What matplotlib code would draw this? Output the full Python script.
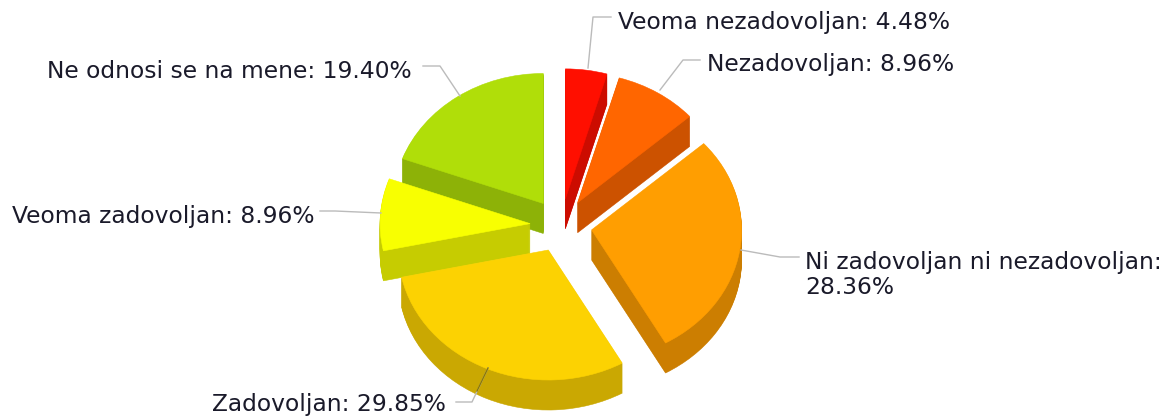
import matplotlib
matplotlib.use("Agg")
import matplotlib.pyplot as plt

categories = ["Veoma nezadovoljan", "Nezadovoljan", "Ni zadovoljan ni nezadovoljan",
              "Zadovoljan", "Veoma zadovoljan", "Ne odnosi se na mene"]
shares = [4.48, 8.96, 28.36, 29.85, 8.96, 19.40]
top_colors = ["#FF0F00", "#FF6600", "#FF9E01", "#FCD202", "#F8FF01", "#B0DE09"]
side_colors = ["#CC0C00", "#CC5200", "#CC7E01", "#CAA802", "#C6CC01", "#8DB207"]

W, H = 1163, 417
RX, RY = 150, 130
DEPTH = 30
EXPLODE = 31
YS = RY / RX
CX, CY = 561, 225.5

fig = plt.figure(figsize=(W / 100, H / 100), dpi=100, facecolor="white")
ax = fig.add_axes([0, 0, 1, 1])
draw_order = {5: 0, 4: 1, 0: 2, 1: 3, 2: 4, 3: 5}


def y_data(py):
    return (H - py) / YS


for d in range(DEPTH, -1, -1):
    colors = top_colors if d == 0 else side_colors
    wedges, _ = ax.pie(
        shares,
        colors=colors,
        radius=RX,
        center=(CX, y_data(CY + d)),
        startangle=90,
        counterclock=False,
        explode=[EXPLODE] * len(shares),
        normalize=True,
        wedgeprops={"linewidth": 0.4},
    )
    for i, w in enumerate(wedges):
        w.set_edgecolor(colors[i])
        w.set_zorder(draw_order[i] * 100 + (DEPTH - d) + 1)

ax.set_aspect("auto")
ax.set_xlim(0, W)
ax.set_ylim(0, H / YS)
ax.axis("off")

leaders = [
    [(588, 68), (593, 17), (611, 17)],
    [(660, 90), (683, 60), (700, 60)],
    [(741, 250), (780, 257), (799, 257)],
    [(488, 368), (472, 402), (456, 402)],
    [(381, 213), (335, 211), (320, 211)],
    [(460, 96), (440, 66), (423, 66)],
]
for i, pts in enumerate(leaders):
    ax.plot([p[0] for p in pts], [y_data(p[1]) for p in pts],
            color="#BBBBBB", lw=1.0, zorder=800)
ax.plot([488, 477], [y_data(368), y_data(391)], color="#8F7A00", lw=1.0, zorder=801)

label_pos = [(618, 22, "left"), (707, 65, "left"), (805, 275, "left"),
             (446, 405, "right"), (315, 216, "right"), (412, 71, "right")]
for c, s, (x, y, ha) in zip(categories, shares, label_pos):
    txt = f"{c}: {s:.2f}%"
    if c.startswith("Ni "):
        txt = f"{c}:\n{s:.2f}%"
    ax.text(x, y_data(y), txt, ha=ha, va="center", fontsize=16.8,
            family="DejaVu Sans", color="#1a1a2a", linespacing=1.08, zorder=900)

fig.savefig("out.png", dpi=100)
